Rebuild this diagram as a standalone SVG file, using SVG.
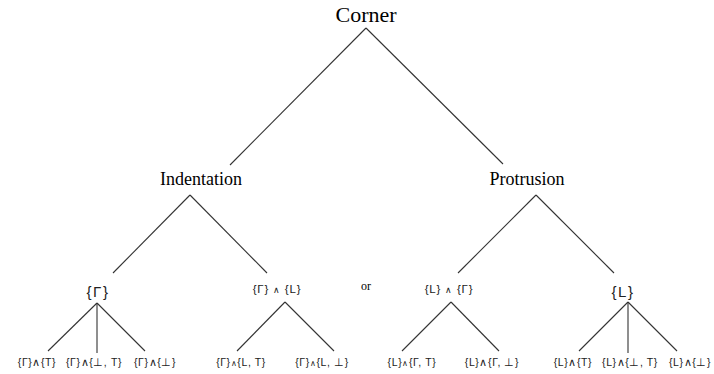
<svg xmlns="http://www.w3.org/2000/svg" width="714" height="374" viewBox="0 0 714 374">
<style>
.serif{font-family:"Liberation Serif","Times New Roman",serif;fill:#000;text-anchor:middle}
.sans{font-family:"Liberation Sans",Arial,sans-serif;fill:#222;text-anchor:middle}
.big{font-size:15px;letter-spacing:1.5px}
.mid{font-size:11.5px;letter-spacing:0.8px}
.small{font-size:10.5px;letter-spacing:0.6px}
.w{font-size:0.8em}
.edge{stroke:#333;stroke-width:1.1;fill:none}
</style>
<rect width="714" height="374" fill="#fff"/>
<g id="connectors">
<line class="edge" x1="366" y1="28" x2="230" y2="165"/>
<line class="edge" x1="366" y1="28" x2="503" y2="164"/>
<line class="edge" x1="190" y1="195" x2="113" y2="273"/>
<line class="edge" x1="190" y1="195" x2="267" y2="273"/>
<line class="edge" x1="536" y1="195" x2="458" y2="273"/>
<line class="edge" x1="536" y1="195" x2="614" y2="273"/>
<line class="edge" x1="97" y1="303" x2="48" y2="351"/>
<line class="edge" x1="97" y1="303" x2="97" y2="353"/>
<line class="edge" x1="97" y1="303" x2="145" y2="351"/>
<line class="edge" x1="285" y1="302" x2="237" y2="351"/>
<line class="edge" x1="285" y1="302" x2="334" y2="351"/>
<line class="edge" x1="451" y1="302" x2="402" y2="351"/>
<line class="edge" x1="451" y1="302" x2="499" y2="351"/>
<line class="edge" x1="628" y1="302" x2="579" y2="351"/>
<line class="edge" x1="628" y1="302" x2="628" y2="353"/>
<line class="edge" x1="628" y1="302" x2="677" y2="351"/>
</g>
<g id="corner"><text class="serif" x="366" y="22" font-size="22">Corner</text></g>
<g id="indentation"><text class="serif" x="201" y="185" font-size="18">Indentation</text></g>
<g id="protrusion"><text class="serif" x="527" y="185" font-size="18">Protrusion</text></g>
<g id="gamma"><text class="sans big" x="98" y="297">{Γ}</text></g>
<g id="gamma-l"><text class="sans mid" x="277" y="293">{Γ} <tspan class="w">∧</tspan> {L}</text></g>
<g id="or"><text class="serif" x="366" y="290" font-size="12">or</text></g>
<g id="l-gamma"><text class="sans mid" x="449" y="293">{L} <tspan class="w">∧</tspan> {Γ}</text></g>
<g id="l"><text class="sans big" x="623" y="297">{L}</text></g>
<g id="g-t"><text class="sans small" x="37" y="366">{Γ}∧{T}</text></g>
<g id="g-bt"><text class="sans small" x="94" y="366">{Γ}∧{⊥, T}</text></g>
<g id="g-b"><text class="sans small" x="155" y="366">{Γ}∧{⊥}</text></g>
<g id="gl-t"><text class="sans small" x="241" y="366">{Γ}<tspan class="w">∧</tspan>{L, T}</text></g>
<g id="gl-b"><text class="sans small" x="322" y="366">{Γ}<tspan class="w">∧</tspan>{L, ⊥}</text></g>
<g id="lg-t"><text class="sans small" x="412" y="366">{L}<tspan class="w">∧</tspan>{Γ, T}</text></g>
<g id="lg-b"><text class="sans small" x="492" y="366">{L}∧{Γ, ⊥}</text></g>
<g id="l-t"><text class="sans small" x="573" y="366">{L}∧{T}</text></g>
<g id="l-bt"><text class="sans small" x="630" y="366">{L}∧{⊥, T}</text></g>
<g id="l-b"><text class="sans small" x="690" y="366">{L}∧{⊥}</text></g>
</svg>
